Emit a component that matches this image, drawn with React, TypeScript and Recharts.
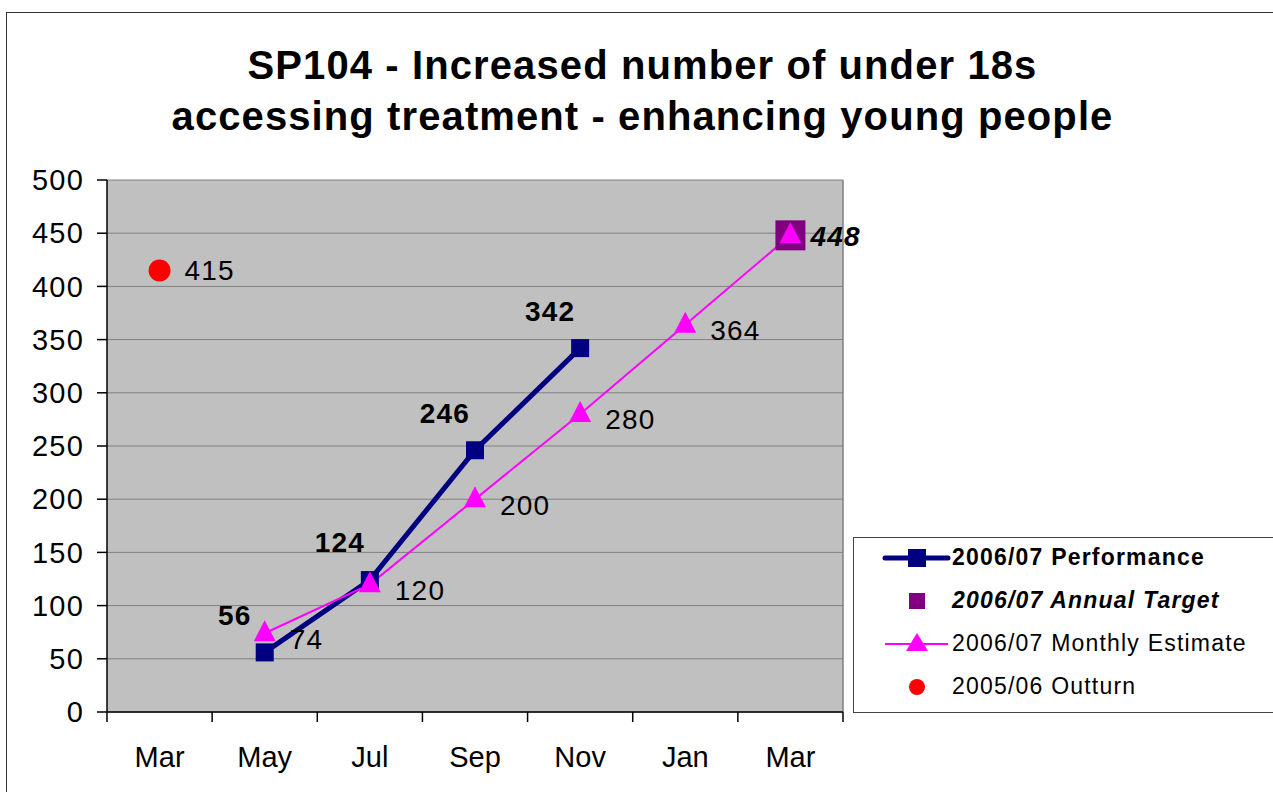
import React from 'react';
import {
  LineChart,
  Line,
  XAxis,
  YAxis,
  CartesianGrid,
  Legend,
  ReferenceLine,
} from 'recharts';

const months = ['Mar', 'May', 'Jul', 'Sep', 'Nov', 'Jan', 'Mar'];
const performance = [null, 56, 124, 246, 342, null, null];
const annualTarget = [null, null, null, null, null, null, 448];
const monthlyEstimate = [null, 74, 120, 200, 280, 364, 448];
const outturn = [415, null, null, null, null, null, null];
const yTicks = [0, 50, 100, 150, 200, 250, 300, 350, 400, 450, 500];
const legendOrder = ['performance', 'annualTarget', 'monthlyEstimate', 'outturn'];

const data = months.map((month, i) => ({
  pos: i + 0.5,
  month,
  performance: performance[i],
  annualTarget: annualTarget[i],
  monthlyEstimate: monthlyEstimate[i],
  outturn: outturn[i],
}));

const colors = {
  performance: '#000080',
  target: '#800080',
  estimate: '#FF00FF',
  outturn: '#FF0000',
};

const font = 'Arial, "Liberation Sans", sans-serif';

const squareDot = (size: number, fill: string, id: string) => (props: any) => {
  const { cx, cy, index } = props;
  if (cx == null || cy == null || props.value == null) return <g key={`${id}-${index}`} />;
  return <rect key={`${id}-${index}`} x={cx - size / 2} y={cy - size / 2} width={size} height={size} fill={fill} />;
};

const triangleDot = (props: any) => {
  const { cx, cy, index } = props;
  if (cx == null || cy == null || props.value == null) return <g key={`t-${index}`} />;
  return (
    <polygon
      key={`t-${index}`}
      points={`${cx},${cy - 13} ${cx + 11},${cy + 8} ${cx - 11},${cy + 8}`}
      fill={colors.estimate}
    />
  );
};

const circleDot = (props: any) => {
  const { cx, cy, index } = props;
  if (cx == null || cy == null || props.value == null) return <g key={`c-${index}`} />;
  return <circle key={`c-${index}`} cx={cx} cy={cy} r={11} fill={colors.outturn} />;
};

const perfLabel = (props: any) => {
  const { x, y, value, index } = props;
  if (value == null) return null;
  return (
    <text key={`pl-${index}`} x={x - 30} y={y - 35} textAnchor="middle" dominantBaseline="middle"
      fontFamily={font} fontSize={28} letterSpacing={1.2} fontWeight="bold" fill="#000">
      {value}
    </text>
  );
};

const rightLabel = (opts: { bold?: boolean; italic?: boolean; skipLast?: boolean; dx: number; dy: number }) =>
  (props: any) => {
    const { x, y, value, index } = props;
    if (value == null) return null;
    if (opts.skipLast && index === months.length - 1) return null;
    return (
      <text key={`rl-${index}`} x={x + opts.dx} y={y + opts.dy} textAnchor="start" dominantBaseline="middle"
        fontFamily={font} fontSize={28} letterSpacing={1.2} fontWeight={opts.bold ? 'bold' : 'normal'}
        fontStyle={opts.italic ? 'italic' : 'normal'} fill="#000">
        {value}
      </text>
    );
  };

const legendIcon = (key: string) => {
  if (key === 'performance') {
    return (
      <svg width={70} height={24}>
        <line x1={3} y1={12} x2={66} y2={12} stroke={colors.performance} strokeWidth={5} strokeLinecap="round" />
        <rect x={26} y={3} width={18} height={18} fill={colors.performance} />
      </svg>
    );
  }
  if (key === 'annualTarget') {
    return (
      <svg width={70} height={24}>
        <rect x={27} y={4} width={16} height={16} fill={colors.target} />
      </svg>
    );
  }
  if (key === 'monthlyEstimate') {
    return (
      <svg width={70} height={24}>
        <line x1={3} y1={12} x2={66} y2={12} stroke={colors.estimate} strokeWidth={2} />
        <polygon points="35,1 46,19 24,19" fill={colors.estimate} />
      </svg>
    );
  }
  return (
    <svg width={70} height={24}>
      <circle cx={35} cy={12} r={8} fill={colors.outturn} />
    </svg>
  );
};

const legendStyle: Record<string, React.CSSProperties> = {
  performance: { fontWeight: 'bold' },
  annualTarget: { fontWeight: 'bold', fontStyle: 'italic' },
  monthlyEstimate: {},
  outturn: {},
};

const renderLegend = (props: any) => {
  const items = [...(props.payload || [])].sort(
    (a: any, b: any) => legendOrder.indexOf(a.dataKey) - legendOrder.indexOf(b.dataKey)
  );
  return (
    <div style={{ marginTop: -2 }}>
      {items.map((entry: any) => (
        <div key={entry.dataKey} style={{ display: 'flex', alignItems: 'center', height: 43 }}>
          <div style={{ width: 98, display: 'flex', justifyContent: 'flex-end' }}>
            {legendIcon(entry.dataKey)}
          </div>
          <span
            style={{
              fontFamily: font,
              fontSize: 23,
              letterSpacing: 1.2,
              color: '#000',
              whiteSpace: 'nowrap',
              ...legendStyle[entry.dataKey],
            }}
          >
            {entry.value}
          </span>
        </div>
      ))}
    </div>
  );
};

export default function App() {
  return (
    <div style={{ position: 'absolute', left: 0, top: 0, width: 1273, height: 792, overflow: 'hidden', background: '#fff' }}>
      <div style={{ position: 'absolute', left: 6, top: 12, width: 1320, height: 850, border: '1.5px solid #333' }} />
      <div
        style={{
          position: 'absolute',
          left: 6,
          top: 40,
          width: 1273,
          textAlign: 'center',
          fontFamily: font,
          fontWeight: 'bold',
          fontSize: 40,
          letterSpacing: 1.1,
          lineHeight: '51px',
          color: '#000',
        }}
      >
        SP104 - Increased number of under 18s
        <br />
        accessing treatment - enhancing young people
      </div>
      <div style={{ position: 'absolute', left: 0, top: 0 }}>
        <LineChart width={1273} height={792} data={data} margin={{ top: 180, right: 430, left: 0, bottom: 0 }}>
          <CartesianGrid xAxisId="grid" vertical={false} fill="#C0C0C0" fillOpacity={1} stroke="#808080" />
          <XAxis
            xAxisId="grid"
            dataKey="pos"
            type="number"
            domain={[0, 7]}
            ticks={[0, 1, 2, 3, 4, 5, 6, 7]}
            tickFormatter={() => ''}
            tickSize={10}
            height={1}
            axisLine={{ stroke: '#000', strokeWidth: 1.5 }}
            tickLine={{ stroke: '#000', strokeWidth: 1.5 }}
          />
          <XAxis
            xAxisId="labels"
            dataKey="pos"
            type="number"
            domain={[0, 7]}
            ticks={[0.5, 1.5, 2.5, 3.5, 4.5, 5.5, 6.5]}
            tickFormatter={(v: number) => months[Math.floor(v)]}
            axisLine={false}
            tickLine={false}
            tickSize={0}
            tickMargin={33}
            height={79}
            tick={{ fontFamily: font, fontSize: 29, fill: '#000' }}
          />
          <YAxis
            domain={[0, 500]}
            ticks={yTicks}
            width={107}
            tickSize={10}
            tickMargin={13}
            axisLine={{ stroke: '#000', strokeWidth: 1.5 }}
            tickLine={{ stroke: '#000', strokeWidth: 1.5 }}
            tick={{ fontFamily: font, fontSize: 29, fill: '#000', letterSpacing: 1.2 }}
            interval={0}
          />
          <ReferenceLine xAxisId="grid" x={7} stroke="#808080" strokeWidth={1.5} />
          <Legend
            layout="vertical"
            align="center"
            verticalAlign="middle"
            content={renderLegend}
            wrapperStyle={{
              left: 853,
              top: 537,
              width: 440,
              height: 176,
              border: '1.5px solid #444',
              background: '#fff',
              boxSizing: 'border-box',
            }}
          />
          <Line
            xAxisId="grid"
            dataKey="performance"
            name="2006/07 Performance"
            stroke={colors.performance}
            strokeWidth={5}
            dot={squareDot(18, colors.performance, 'p')}
            activeDot={false}
            label={perfLabel}
            isAnimationActive={false}
          />
          <Line
            xAxisId="grid"
            dataKey="annualTarget"
            name="2006/07 Annual Target"
            stroke="none"
            dot={squareDot(30, colors.target, 'a')}
            activeDot={false}
            label={rightLabel({ bold: true, italic: true, dx: 20, dy: 3 })}
            isAnimationActive={false}
          />
          <Line
            xAxisId="grid"
            dataKey="monthlyEstimate"
            name="2006/07 Monthly Estimate"
            stroke={colors.estimate}
            strokeWidth={2}
            dot={triangleDot}
            activeDot={false}
            label={rightLabel({ skipLast: true, dx: 25, dy: 8 })}
            isAnimationActive={false}
          />
          <Line
            xAxisId="grid"
            dataKey="outturn"
            name="2005/06 Outturn"
            stroke="none"
            dot={circleDot}
            activeDot={false}
            label={rightLabel({ dx: 25, dy: 2 })}
            isAnimationActive={false}
          />
        </LineChart>
      </div>
    </div>
  );
}
